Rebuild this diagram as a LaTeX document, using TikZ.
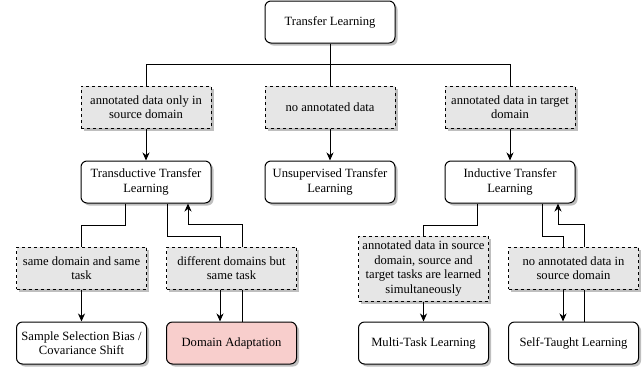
\documentclass[tikz,border=0pt]{standalone}
\usepackage{fontspec}
\setmainfont{Liberation Serif}
\usetikzlibrary{arrows.meta,shadows}
\definecolor{pinkfill}{HTML}{F8CECC}
\definecolor{greyfill}{HTML}{E6E6E6}
\tikzset{
  base/.style={minimum width=130pt, minimum height=42pt, inner sep=0pt, align=center,
    font=\rmfamily\fontsize{12.6}{14.6}\selectfont, line width=1pt},
  shad/.style={drop shadow={shadow xshift=2.5pt, shadow yshift=-2.5pt, fill=black, opacity=0.25}},
  rbox/.style={base, shad, draw=black, fill=white, rounded corners=6pt},
  dbox/.style={base, shad, draw=black, fill=greyfill, dash pattern=on 3pt off 3pt},
  conn/.style={line width=1pt, draw=black},
  arr/.style={conn, -{Stealth[length=8pt,width=7pt,inset=2.5pt]}}
}
\begin{document}
\begin{tikzpicture}[x=1pt,y=-1pt]
\useasboundingbox (0,0) rectangle (643,368);
\node[rbox] (tl) at (330,22) {Transfer Learning};
\node[dbox] (a1) at (146,107) {annotated data only in\\source domain};
\node[dbox] (a2) at (330,107) {no annotated data};
\node[dbox] (a3) at (510,107) {annotated data in target\\domain};
\node[rbox] (td) at (146,182) {Transductive Transfer\\Learning};
\node[rbox] (ut) at (330,182) {Unsupervised Transfer\\Learning};
\node[rbox] (it) at (510,182) {Inductive Transfer\\Learning};
\node[dbox] (sd) at (81.5,268) {same domain and same\\task};
\node[dbox] (dd) at (231.5,268) {different domains but\\same task};
\node[dbox, minimum height=65pt] (mt) at (423.5,268.5) {annotated data in source\\domain, source and\\target tasks are learned\\simultaneously};
\node[dbox] (nd) at (573.5,268) {no annotated data in\\source domain};
\node[rbox] (ss) at (81.5,343) {Sample Selection Bias /\\Covariance Shift};
\node[rbox, fill=pinkfill] (da) at (231.5,343) {Domain Adaptation};
\node[rbox] (ml) at (423.5,343) {Multi-Task Learning};
\node[rbox] (st) at (573.5,343) {Self-Taught Learning};
% top tree
\draw[conn] (tl.south) -- ++(0,21) coordinate (j);
\draw[conn] (j) -| (a1.north);
\draw[conn] (j) -| (a3.north);
\draw[conn] (j) -- (a2.north);
\draw[arr] (a1.south) -- (td.north);
\draw[arr] (a2.south) -- (ut.north);
\draw[arr] (a3.south) -- (it.north);
% transductive branch
\draw[conn] ([xshift=-21pt]td.south) -- ++(0,22) -| (sd.north);
\draw[arr] (sd.south) -- (ss.north);
\draw[conn] ([xshift=21pt]td.south) -- ++(0,33) -| ([xshift=-11.5pt]dd.north);
\draw[arr] ([xshift=-11.5pt]dd.south) -- ([xshift=-11.5pt]da.north);
\draw[conn] ([xshift=10.5pt]da.north) -- ([xshift=10.5pt]dd.south);
\draw[arr] ([xshift=10.5pt]dd.north) -- ++(0,-22) -| ([xshift=42pt]td.south);
% inductive branch
\draw[conn] ([xshift=-33pt]it.south) -- ++(0,22) -| (mt.north);
\draw[arr] (mt.south) -- (ml.north);
\draw[conn] ([xshift=32pt]it.south) -- ++(0,33) -| ([xshift=-10.5pt]nd.north);
\draw[arr] ([xshift=-10.5pt]nd.south) -- ([xshift=-10.5pt]st.north);
\draw[conn] ([xshift=10.5pt]st.north) -- ([xshift=10.5pt]nd.south);
\draw[arr] ([xshift=10.5pt]nd.north) -- ++(0,-22) -| ([xshift=48pt]it.south);
\end{tikzpicture}
\end{document}
